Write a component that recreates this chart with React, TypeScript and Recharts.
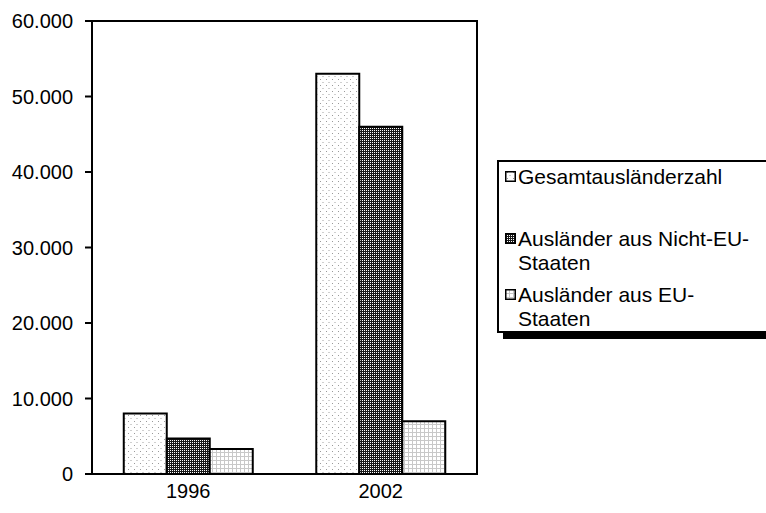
import React from 'react';
import { BarChart, Bar, XAxis, YAxis, Legend, ReferenceArea } from 'recharts';

const categories = ['1996', '2002'];
const gesamt = [8000, 53000];
const nichtEU = [4700, 46000];
const eu = [3300, 7000];
const yTicks = [0, 10000, 20000, 30000, 40000, 50000, 60000];
const seriesNames = ['Gesamtausländerzahl', 'Ausländer aus Nicht-EU-Staaten', 'Ausländer aus EU-Staaten'];
const legendLines = [['Gesamtausländerzahl'], ['Ausländer aus Nicht-EU-', 'Staaten'], ['Ausländer aus EU-', 'Staaten']];
const patternIds = ['pGes', 'pNon', 'pEU'];

const data = categories.map((c, i) => ({ cat: c, gesamt: gesamt[i], nichtEU: nichtEU[i], eu: eu[i] }));

const FONT = '"Liberation Sans", Arial, sans-serif';

const fmt = (v: number) => String(v).replace(/\B(?=(\d{3})+(?!\d))/g, '.');

const Patterns = () => (
  <svg width={0} height={0} style={{ position: 'absolute' }}>
    <defs>
      <pattern id="pGes" width={6} height={6} patternUnits="userSpaceOnUse">
        <rect width={6} height={6} fill="#fff" />
        <rect x={2} y={1} width={1} height={1} fill="#9a9a9a" />
        <rect x={4} y={4} width={2} height={1} fill="#d0d0d0" />
      </pattern>
      <pattern id="pNon" width={2} height={2} patternUnits="userSpaceOnUse">
        <rect width={2} height={2} fill="#1a1a1a" />
        <rect x={0} y={0} width={1} height={1} fill="#ffffff" />
      </pattern>
      <pattern id="pEU" width={4} height={4} patternUnits="userSpaceOnUse">
        <rect width={4} height={4} fill="#fff" />
        <rect x={0} y={0} width={4} height={1} fill="#c8c8c8" />
        <rect x={0} y={0} width={1} height={4} fill="#c8c8c8" />
      </pattern>
    </defs>
  </svg>
);

const itemMargins = [0, 38, 8];

const LegendBox = () => (
  <div
    style={{
      border: '2px solid #000',
      boxShadow: '6px 6px 0 #000',
      background: '#fff',
      width: 290,
      paddingTop: 3,
      paddingBottom: 0,
      paddingLeft: 6,
      fontFamily: FONT,
      fontSize: 21,
      lineHeight: '24px',
      color: '#000',
      boxSizing: 'border-box',
    }}
  >
    {legendLines.map((lines, i) => (
      <div key={seriesNames[i]} style={{ marginTop: itemMargins[i], display: 'flex', alignItems: 'flex-start' }}>
        <svg width={11} height={11} style={{ marginTop: 6, marginRight: 2, flex: 'none' }}>
          <rect x={0.75} y={0.75} width={9.5} height={9.5} fill={`url(#${patternIds[i]})`} stroke="#000" strokeWidth={1.5} />
        </svg>
        <div style={{ whiteSpace: 'nowrap' }}>
          {lines.map((l, j) => (
            <div key={j}>{l}</div>
          ))}
        </div>
      </div>
    ))}
  </div>
);

export default function App() {
  return (
    <div style={{ position: 'absolute', left: 0, top: 0, width: 766, height: 513, overflow: 'hidden', background: '#fff' }}>
      <Patterns />
      <BarChart
        width={766}
        height={513}
        data={data}
        margin={{ top: 21, right: 289, bottom: 0, left: 0 }}
        barCategoryGap="16.5%"
        barGap={0}
      >
        <XAxis
          dataKey="cat"
          height={39}
          tickLine={false}
          tickSize={0}
          tickMargin={10}
          axisLine={{ stroke: '#000', strokeWidth: 2 }}
          tick={{ fill: '#000', fontSize: 20, fontFamily: FONT }}
        />
        <YAxis
          width={92}
          domain={[0, 60000]}
          ticks={yTicks}
          interval={0}
          tickFormatter={fmt}
          tickSize={7}
          tickMargin={12}
          tickLine={{ stroke: '#000', strokeWidth: 2 }}
          axisLine={{ stroke: '#000', strokeWidth: 2 }}
          tick={{ fill: '#000', fontSize: 20, fontFamily: FONT }}
        />
        <ReferenceArea y1={0} y2={60000} fill="none" stroke="#000" strokeWidth={2} ifOverflow="visible" />
        <Bar dataKey="gesamt" name={seriesNames[0]} fill="url(#pGes)" stroke="#000" strokeWidth={2} isAnimationActive={false} />
        <Bar dataKey="nichtEU" name={seriesNames[1]} fill="url(#pNon)" stroke="#000" strokeWidth={2} isAnimationActive={false} />
        <Bar dataKey="eu" name={seriesNames[2]} fill="url(#pEU)" stroke="#000" strokeWidth={2} isAnimationActive={false} />
        <Legend
          layout="horizontal"
          align="center"
          verticalAlign="middle"
          content={() => <LegendBox />}
          wrapperStyle={{ left: 497, top: 160, width: 290, height: 'auto' }}
        />
      </BarChart>
    </div>
  );
}
